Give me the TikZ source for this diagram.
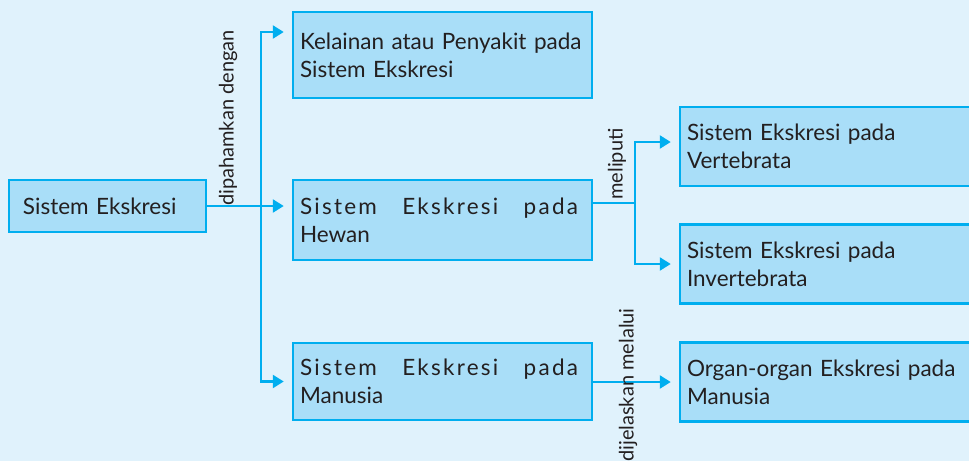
\documentclass[tikz,border=0pt]{standalone}
\usepackage{fontspec}
\setmainfont{Lato}
\usetikzlibrary{arrows.meta,positioning}

\definecolor{bgblue}{HTML}{E0F2FC}
\definecolor{boxblue}{HTML}{A9DEF8}
\definecolor{lineblue}{HTML}{00AEEF}
\definecolor{inkgray}{HTML}{231F20}

\begin{document}
\begin{tikzpicture}[x=1pt,y=-1pt,
  font=\fontsize{22.5}{28}\selectfont,text=inkgray,
  box/.style={draw=lineblue,fill=boxblue,line width=2.5pt,inner xsep=7pt,
    inner ysep=0pt,align=left},
  midbox/.style={box,minimum width=299pt,text width=285pt},
  rightbox/.style={box,minimum width=320pt,text width=306pt,minimum height=79pt},
  conn/.style={draw=lineblue,line width=2.5pt},
  link/.style={conn,-{Triangle[length=11pt,width=13pt]},shorten >=8pt},
  verb/.style={rotate=90,inner sep=0pt,font=\fontsize{20}{22}\selectfont}]
\fill[bgblue] (0,0) rectangle (969,461);
\useasboundingbox (0,0) rectangle (969,461);

% boxes
\node[box,inner xsep=14pt,minimum width=197pt,minimum height=52pt,text width=169pt]
  (sistem) at (107.5,206) {Sistem Ekskresi};
\node[midbox,minimum height=86pt] (kelainan) at (442.5,55)
  {Kelainan atau Penyakit pada\\Sistem Ekskresi};
\node[midbox,minimum height=80pt] (hewan) at (442.5,220)
  {\makebox[278pt][l]{\addfontfeature{LetterSpace=10}Sistem\hfill Ekskresi\hfill pada}\\Hewan};
\node[midbox,minimum height=77pt] (manusia) at (442.5,381.5)
  {\makebox[278pt][l]{\addfontfeature{LetterSpace=10}Sistem\hfill Ekskresi\hfill pada}\\Manusia};
\node[rightbox] (vertebrata) at (840,146.5) {Sistem Ekskresi pada\\Vertebrata};
\node[rightbox] (invertebrata) at (840,264) {Sistem Ekskresi pada\\Invertebrata};
\node[rightbox] (organ) at (840,382) {Organ-organ Ekskresi pada\\Manusia};

% connectors
\coordinate (split) at (261,206);
\coordinate (fork) at (635,203);
\draw[link] (sistem.east) -- (sistem.east -| hewan.west);
\draw[link] (split) |- ([yshift=23pt]kelainan.west);
\draw[link] (split) |- (manusia.west);
\draw[conn] (hewan.east |- fork) -- (fork);
\draw[link] (fork) |- ([yshift=4.5pt]vertebrata.west);
\draw[link] (fork) |- (invertebrata.west);
\draw[link] (manusia.east |- organ.west) -- (organ.west);

% labels
\node[verb] (lblpaham) at (228,118) {dipahamkan dengan};
\node[verb] (lblliput) at (617,164) {meliputi};
\node[verb] (lbljelas) at (628,385) {dijelaskan melalui};
\end{tikzpicture}
\end{document}
